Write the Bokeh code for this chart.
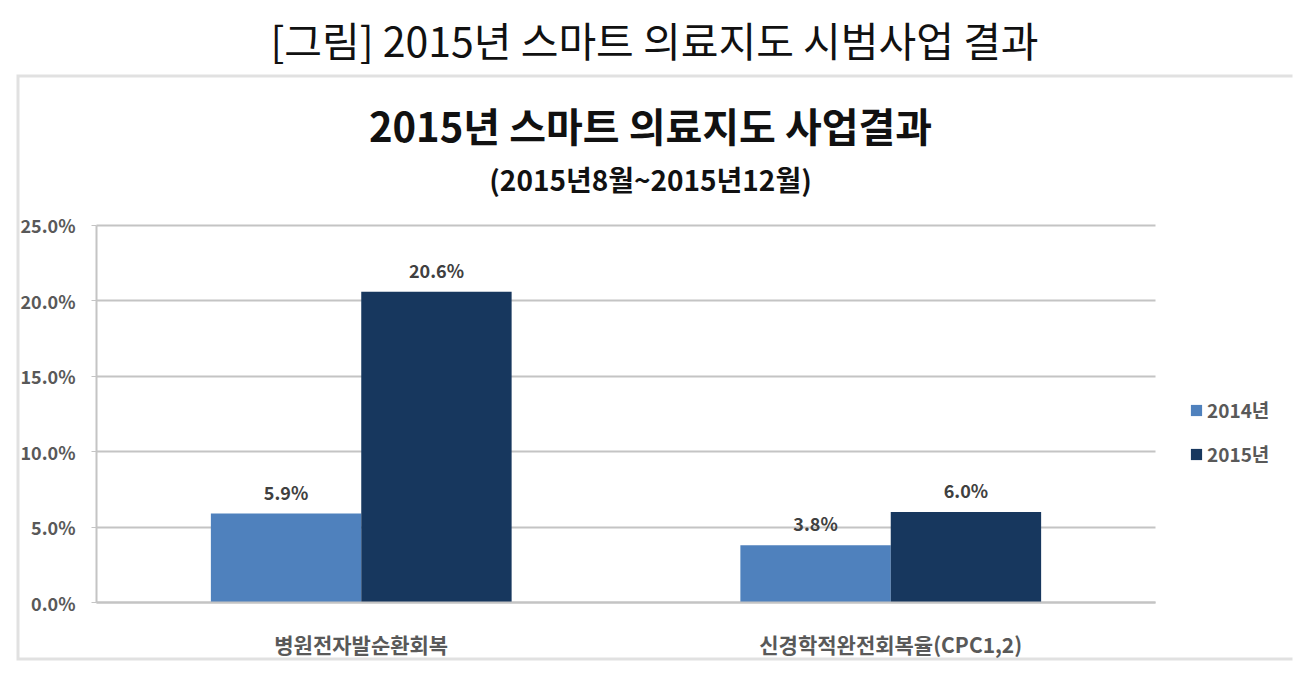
from bokeh.plotting import figure
from bokeh.models import (ColumnDataSource, Range1d, NumeralTickFormatter,
                          Label, BoxAnnotation, Legend, LegendItem, FixedTicker)
from bokeh.transform import dodge
from bokeh.core.properties import value
from bokeh.embed import file_html
from bokeh.resources import INLINE

# ---- data ----
categories = ["병원전자발순환회복", "신경학적완전회복율(CPC1,2)"]
years = ["2014년", "2015년"]
values_2014 = [0.059, 0.038]
values_2015 = [0.206, 0.060]
labels_2014 = ["5.9%", "3.8%"]
labels_2015 = ["20.6%", "6.0%"]
y_ticks = [0.0, 0.05, 0.10, 0.15, 0.20, 0.25]
outer_title = "[그림] 2015년 스마트 의료지도 시범사업 결과"
chart_title = "2015년 스마트 의료지도 사업결과"
chart_subtitle = "(2015년8월~2015년12월)"
colors = ["#4F81BD", "#17375E"]

FONT = "Noto Sans CJK KR"
GRID = "#c4c4c4"
BORDER = "#9c9c9c"

# category slots: each category occupies one unit, centres at i + 0.5
cat_pos = [i + 0.5 for i in range(len(categories))]
n_cat = len(categories)
y_top = y_ticks[-1]

# layout (pixels): frame = grey box, plot area inside it
W, H = 1306, 678
box_l, box_r, box_t, box_b = 16, 1292, 73, 660
pa_l, pa_r, pa_t, pa_b = 96, 1155, 224, 602
px_x = (pa_r - pa_l) / n_cat
px_y = (pa_b - pa_t) / y_top
x_start = -(pa_l - box_l) / px_x
x_end = n_cat + (box_r - pa_r) / px_x
y_start = -(box_b - pa_b) / px_y
y_end = y_top + (pa_t - box_t) / px_y

p = figure(x_range=Range1d(x_start, x_end), y_range=Range1d(y_start, y_end),
           width=W, height=H, output_backend="svg", toolbar_location=None,
           min_border_left=box_l, min_border_right=W - box_r,
           min_border_top=box_t, min_border_bottom=H - box_b)
p.outline_line_color = None

src = ColumnDataSource(dict(pos=cat_pos, cat=categories, v14=values_2014, v15=values_2015,
                            l14=labels_2014, l15=labels_2015))
off = 0.142
bw = 0.284
r1 = p.vbar(x=dodge("pos", -off), top="v14", width=bw, source=src,
            fill_color=colors[0], line_color=None)
r2 = p.vbar(x=dodge("pos", off), top="v15", width=bw, source=src,
            fill_color=colors[1], line_color=None)

for xo, col, lab in [(-off, "v14", "l14"), (off, "v15", "l15")]:
    p.text(x=dodge("pos", xo), y=col, text=lab, source=src,
           text_align="center", text_baseline="bottom", y_offset=-9,
           text_font=value(FONT), text_font_size="18px", text_font_style="bold",
           text_color="#404040")

# axes placed inside the box
yt = FixedTicker(ticks=y_ticks)
p.yaxis.ticker = yt
p.yaxis.fixed_location = 0
p.yaxis.bounds = (0, y_top)
p.yaxis.formatter = NumeralTickFormatter(format="0.0%")
p.yaxis.axis_line_color = GRID
p.yaxis.axis_line_width = 2
p.yaxis.major_tick_line_color = GRID
p.yaxis.major_tick_out = 5
p.yaxis.major_tick_in = 0
p.yaxis.minor_tick_line_color = None
p.yaxis.major_label_standoff = 16
p.yaxis.major_label_text_font = FONT
p.yaxis.major_label_text_font_size = "18px"
p.yaxis.major_label_text_font_style = "bold"
p.yaxis.major_label_text_color = "#595959"

p.xaxis.ticker = FixedTicker(ticks=cat_pos)
p.xaxis.major_label_overrides = {pos: c for pos, c in zip(cat_pos, categories)}
p.xaxis.fixed_location = 0
p.xaxis.bounds = (0, n_cat)
p.xaxis.axis_line_color = GRID
p.xaxis.axis_line_width = 2
p.xaxis.major_tick_line_color = None
p.xaxis.minor_tick_line_color = None
p.xaxis.major_label_standoff = 20
p.xaxis.major_label_text_font = FONT
p.xaxis.major_label_text_font_size = "21px"
p.xaxis.major_label_text_font_style = "bold"
p.xaxis.major_label_text_color = "#595959"

p.xgrid.visible = False
p.ygrid.ticker = yt
p.ygrid.cross_bounds = (0, n_cat)
p.ygrid.grid_line_color = GRID
p.ygrid.grid_line_width = 2

# grey box: top, left and bottom edges (right edge lies beyond the canvas)
p.add_layout(BoxAnnotation(left=x_start, right=x_end + 0.5, bottom=y_start, top=y_end,
                           fill_color=None, fill_alpha=0, line_color=BORDER, line_width=6))

# outer caption
p.title.text = outer_title
p.title.align = "center"
p.title.text_font = FONT
p.title.text_font_size = "41px"
p.title.text_font_style = "normal"
p.title.text_color = "#111111"
p.title.standoff = 12

# chart titles inside the box
cx = 650 - box_l
p.add_layout(Label(x=cx, y=box_b - 124, x_units="screen", y_units="screen", text=chart_title,
                   text_align="center", text_baseline="middle", text_font=FONT,
                   text_font_size="40px", text_font_style="bold", text_color="#111111"))
p.add_layout(Label(x=cx, y=box_b - 178, x_units="screen", y_units="screen", text=chart_subtitle,
                   text_align="center", text_baseline="middle", text_font=FONT,
                   text_font_size="28px", text_font_style="bold", text_color="#111111"))

legend = Legend(items=[LegendItem(label=years[0], renderers=[r1]),
                       LegendItem(label=years[1], renderers=[r2])],
                location=(1189 - box_l, box_b - 467), border_line_color=None,
                background_fill_alpha=0, padding=0, margin=0, glyph_width=14,
                glyph_height=14, label_standoff=4, spacing=17, label_height=20,
                label_text_font=FONT, label_text_font_size="19px",
                label_text_font_style="bold", label_text_color="#595959")
p.add_layout(legend)

open("out.html", "w").write(file_html(p, INLINE))
